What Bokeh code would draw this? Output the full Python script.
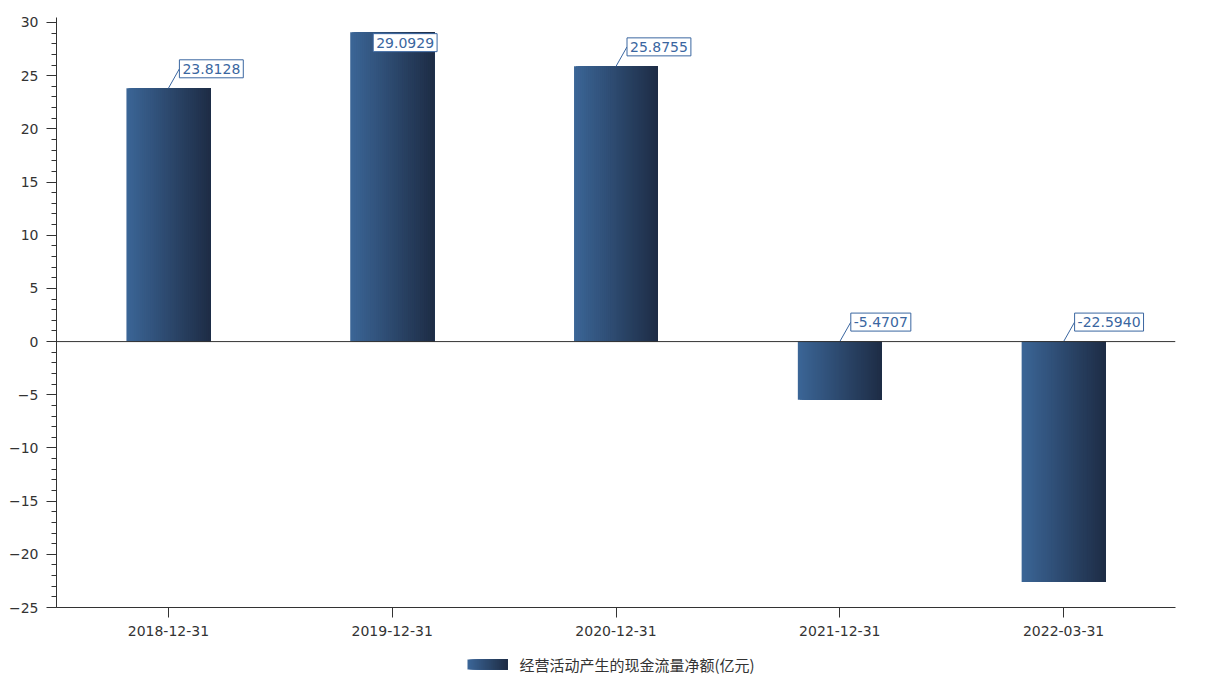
from bokeh.plotting import figure
from bokeh.models import Range1d, FixedTicker, SingleIntervalTicker, Span, Label
from bokeh.layouts import column
from bokeh.embed import file_html
from bokeh.resources import INLINE

categories = ["2018-12-31", "2019-12-31", "2020-12-31", "2021-12-31", "2022-03-31"]
values = [23.8128, 29.0929, 25.8755, -5.4707, -22.5940]
value_labels = ["23.8128", "29.0929", "25.8755", "-5.4707", "-22.5940"]
series_name = "经营活动产生的现金流量净额(亿元)"
y_min, y_max, y_step = -25, 30, 5

CJK_FONT = "Noto Sans CJK SC"
NUM_FONT = "DejaVu Sans"
C0 = (59, 101, 150)
C1 = (30, 45, 70)
LABEL_BLUE = "#3a66a0"
N_STRIPS = 42
BAR_W = 0.375

W, H_MAIN, H_LEG = 1215, 645, 41
B_LEFT, B_RIGHT, B_TOP, B_BOTTOM = 56, 40, 17, 38
Y_TOP_PAD = 0.47


def grad_color(t):
    r = int(round(C0[0] + (C1[0] - C0[0]) * t))
    g = int(round(C0[1] + (C1[1] - C0[1]) * t))
    b = int(round(C0[2] + (C1[2] - C0[2]) * t))
    return "#%02x%02x%02x" % (r, g, b)


y_end = y_max + Y_TOP_PAD
p = figure(width=W, height=H_MAIN, output_backend="svg", toolbar_location=None,
           x_range=Range1d(0, len(categories)), y_range=Range1d(y_min, y_end),
           min_border_left=B_LEFT, min_border_right=B_RIGHT,
           min_border_top=B_TOP, min_border_bottom=B_BOTTOM)
p.outline_line_color = None
p.xgrid.visible = False
p.ygrid.visible = False
p.background_fill_color = "white"
p.border_fill_color = "white"

centers = [i + 0.5 for i in range(len(categories))]

# gradient bars: overlapping layers, each from its start to the bar's right edge
lefts, rights, tops, bottoms, colors = [], [], [], [], []
for k in range(N_STRIPS):
    for c, v in zip(centers, values):
        x0 = c - BAR_W / 2
        lefts.append(x0 + k * BAR_W / N_STRIPS)
        rights.append(x0 + BAR_W)
        tops.append(max(v, 0))
        bottoms.append(min(v, 0))
        colors.append(grad_color(k / (N_STRIPS - 1)))
p.quad(left=lefts, right=rights, top=tops, bottom=bottoms, fill_color=colors, line_color=None)

p.add_layout(Span(location=0, dimension="width", line_color="#333333", line_width=1))

# leader lines + boxed labels
frame_w = W - B_LEFT - B_RIGHT
frame_h = H_MAIN - B_TOP - B_BOTTOM
px_per_x = frame_w / len(categories)
px_per_y = frame_h / (y_end - y_min)
dx, dy = 11, 19.5
half_box = 10.5
seg_x0, seg_y0, seg_x1, seg_y1 = [], [], [], []
for c, v, t in zip(centers, values, value_labels):
    top = max(v, 0)
    top_px_from_frame_top = (y_end - top) * px_per_y
    if top_px_from_frame_top - dy - half_box < 0:
        # not enough room above: label is pushed down onto the bar
        xo, yo = -19, -half_box
    else:
        xo, yo = dx, dy
        seg_x0.append(c)
        seg_y0.append(top)
        seg_x1.append(c + dx / px_per_x)
        seg_y1.append(top + dy / px_per_y)
    p.add_layout(Label(x=c, y=top, x_offset=xo, y_offset=yo, text=t,
                       text_align="left", text_baseline="middle",
                       text_font=NUM_FONT, text_font_size="14px", text_color=LABEL_BLUE,
                       border_line_color=LABEL_BLUE, border_line_width=1,
                       background_fill_color="white", padding=(3, 4)))
p.segment(x0=seg_x0, y0=seg_y0, x1=seg_x1, y1=seg_y1, line_color=LABEL_BLUE, line_width=1)

for ax in (p.xaxis[0], p.yaxis[0]):
    ax.axis_line_color = "#333333"
    ax.major_tick_line_color = "#333333"
    ax.minor_tick_line_color = "#333333"
    ax.major_tick_out = 10
    ax.major_tick_in = 0
    ax.minor_tick_out = 5
    ax.minor_tick_in = 0
    ax.major_label_text_font = NUM_FONT
    ax.major_label_text_font_size = "14px"
    ax.major_label_text_color = "#333333"

p.xaxis.ticker = FixedTicker(ticks=centers, minor_ticks=[])
p.xaxis.major_label_overrides = {c: lab for c, lab in zip(centers, categories)}
p.xaxis.major_label_standoff = 8
p.yaxis.ticker = SingleIntervalTicker(interval=y_step, num_minor_ticks=5)
p.yaxis.major_label_standoff = 8

# legend strip (frame aligned with main plot; data units == page pixels)
lg = figure(width=W, height=H_LEG, output_backend="svg", toolbar_location=None,
            x_range=Range1d(B_LEFT, W - B_RIGHT), y_range=Range1d(0, H_LEG),
            min_border_left=B_LEFT, min_border_right=B_RIGHT, min_border_top=0, min_border_bottom=0)
lg.axis.visible = False
lg.xgrid.visible = False
lg.ygrid.visible = False
lg.outline_line_color = None
sx0, sx1 = 467, 507
n = 20
lg.quad(left=[sx0 + (sx1 - sx0) * k / n for k in range(n)], right=sx1, bottom=17, top=27,
        fill_color=[grad_color(k / (n - 1)) for k in range(n)], line_color=None)
lg.text(x=[519], y=[22], text=[series_name], text_font={"value": CJK_FONT}, text_font_size="15px",
        text_color="#333333", text_baseline="middle", text_align="left")

layout = column(p, lg, spacing=0)
open("out.html", "w").write(file_html(layout, INLINE))
